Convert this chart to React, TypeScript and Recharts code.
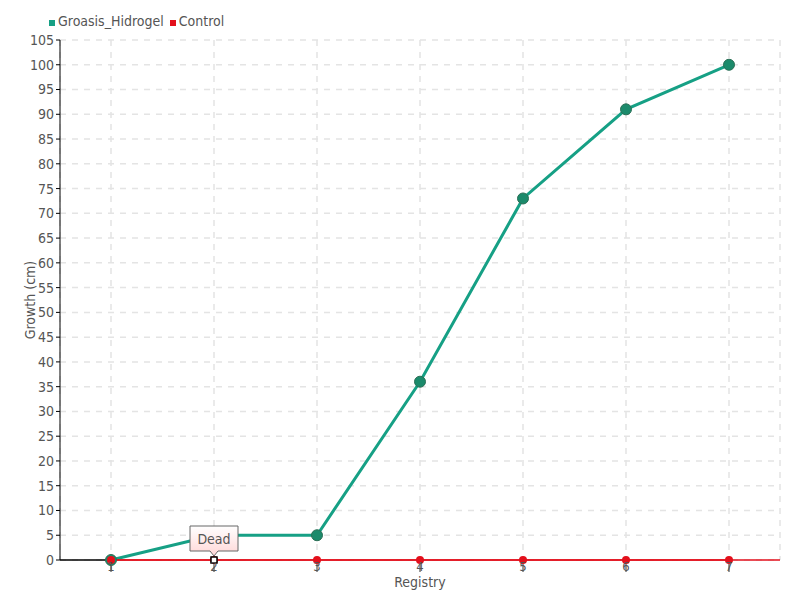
import React from "react";
import { LineChart, Line, XAxis, YAxis, CartesianGrid, Label } from "recharts";

const registries = ["1", "2", "3", "4", "5", "6", "7"];
const groasisHidrogel = [0, 5, 5, 36, 73, 91, 100];
const control = [0, 0, 0, 0, 0, 0, 0];
const yTicks = [0, 5, 10, 15, 20, 25, 30, 35, 40, 45, 50, 55, 60, 65, 70, 75, 80, 85, 90, 95, 100, 105];
const deadIndex = 1;
const deadText = "Dead";

const data = registries.map((r, i) => ({
  registry: r,
  Groasis_Hidrogel: groasisHidrogel[i],
  Control: control[i],
}));

const FONT = "'DejaVu Sans Condensed', 'Liberation Sans Narrow', sans-serif";
const GREEN = "#16a085";
const RED = "#e3101c";

const ControlDot = (props: any) => {
  const { cx, cy, index } = props;
  if (index === deadIndex) {
    return (
      <g key={"d" + index}>
        <defs>
          <linearGradient id="deadFill" x1="0" y1="0" x2="0" y2="1">
            <stop offset="0%" stopColor="#ffffff" />
            <stop offset="100%" stopColor="#ffd6d6" />
          </linearGradient>
        </defs>
        <path
          d={`M${cx - 24},${cy - 34} h48 v25 h-20 l-4,5 l-4,-5 h-20 z`}
          fill="url(#deadFill)"
          stroke="#666"
          strokeWidth={1}
        />
        <text x={cx} y={cy - 16} textAnchor="middle" fontSize={14} fill="#555" fontFamily={FONT}>
          {deadText}
        </text>
        <circle cx={cx} cy={cy} r={4} fill={RED} />
        <rect x={cx - 3} y={cy - 3} width={6} height={6} fill="#fff" stroke="#000" strokeWidth={1.5} />
      </g>
    );
  }
  if (index === 0) {
    // the x axis line is black up to the first point, then covered by the red series
    return (
      <g key={"d" + index}>
        <defs>
          <linearGradient id="xAxisStroke" gradientUnits="userSpaceOnUse" x1={cx - 51} y1={0} x2={cx + 669} y2={0}>
            <stop offset="0.0708" stopColor="#000" />
            <stop offset="0.0708" stopColor={RED} />
            <stop offset="1" stopColor={RED} />
          </linearGradient>
        </defs>
        <circle cx={cx} cy={cy} r={4} fill={RED} />
      </g>
    );
  }
  return <circle key={"d" + index} cx={cx} cy={cy} r={4} fill={RED} />;
};

const GreenDot = (props: any) => {
  const { cx, cy, index } = props;
  if (index === deadIndex) return <g key={"g" + index} />;
  return <circle key={"g" + index} cx={cx} cy={cy} r={5.5} fill="#1b8a6b" stroke="#2b6f56" strokeWidth={1} />;
};

const LegendBox = () => (
  <div
    style={{
      position: "absolute",
      left: 49,
      top: 13,
      display: "flex",
      fontFamily: FONT,
      fontSize: 14,
      color: "#555",
    }}
  >
    <span style={{ display: "flex", alignItems: "center", marginRight: 6 }}>
      <span style={{ width: 6, height: 6, background: GREEN, marginRight: 3, marginTop: 3 }} />
      Groasis_Hidrogel
    </span>
    <span style={{ display: "flex", alignItems: "center" }}>
      <span style={{ width: 6, height: 6, background: RED, marginRight: 3, marginTop: 3 }} />
      Control
    </span>
  </div>
);

export default function App() {
  return (
    <div style={{ position: "absolute", left: 0, top: 0, width: 800, height: 600, background: "#fff" }}>
      <LineChart
        width={800}
        height={600}
        data={data}
        margin={{ top: 40, right: 20, bottom: 20, left: 20 }}
        style={{ fontFamily: FONT }}
      >
        <CartesianGrid stroke="#e4e4e4" strokeDasharray="6 6" strokeWidth={1.5} />
        <XAxis
          dataKey="registry"
          padding={{ left: 51, right: 51 }}
          axisLine={{ stroke: "url(#xAxisStroke)", strokeWidth: 1.5 }}
          tickLine={{ stroke: "#333" }}
          tickSize={12}
          tickMargin={-10}
          height={20}
          tick={{ fill: "#555", fontSize: 13 }}
          interval={0}
        >
          <Label value="Registry" position="insideBottom" offset={-7} fill="#555" fontSize={14} />
        </XAxis>
        <YAxis
          domain={[0, 105]}
          ticks={yTicks}
          interval={0}
          width={40}
          axisLine={{ stroke: "#000" }}
          tickLine={{ stroke: "#000" }}
          tickSize={4}
          tick={{ fill: "#555", fontSize: 14 }}
        >
          <Label value="Growth (cm)" angle={-90} position="insideLeft" offset={10} fill="#555" fontSize={14} style={{ textAnchor: "middle" }} />
        </YAxis>
        <Line
          dataKey="Groasis_Hidrogel"
          stroke={GREEN}
          strokeWidth={3}
          dot={<GreenDot />}
          activeDot={false}
          isAnimationActive={false}
        />
        <Line
          dataKey="Control"
          stroke={RED}
          strokeWidth={1.5}
          dot={<ControlDot />}
          activeDot={false}
          isAnimationActive={false}
        />
      </LineChart>
      <LegendBox />
    </div>
  );
}
